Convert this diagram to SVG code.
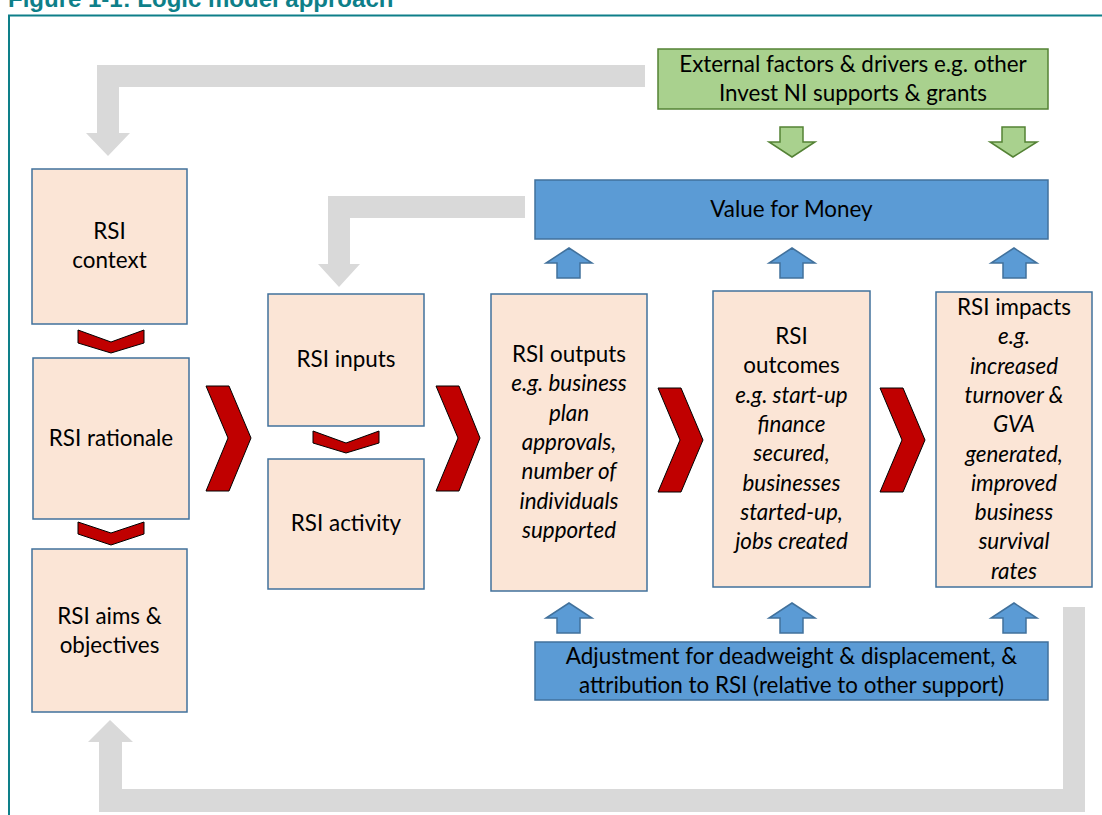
<svg xmlns="http://www.w3.org/2000/svg" width="1102" height="815" viewBox="0 0 1102 815">
<style>
.title{font-family:"Liberation Sans",Arial,sans-serif;font-weight:bold;font-size:24px;fill:#0E7F89}
.box{fill:#FBE5D6;stroke:#41719C;stroke-width:1.5}
.blue{fill:#5B9BD5;stroke:#41719C;stroke-width:1.5}
.green{fill:#A9D18E;stroke:#548235;stroke-width:1.5}
.grey{fill:#D9D9D9}
.chev{fill:#C00000;stroke:#000;stroke-width:1}
.t{font-family:Lato,"Liberation Sans",sans-serif;font-size:22.4px;fill:#000;text-anchor:middle}
.i{font-style:italic}
</style>
<rect width="1102" height="815" fill="#fff"/>
<text class="title" x="8" y="7">Figure 1-1: Logic model approach</text>
<rect x="9" y="15.5" width="1110" height="820" fill="none" stroke="#0E7F89" stroke-width="2"/>

<g id="connectors">
  <path class="grey" d="M645,65 L97,65 L97,133 L86,133 L108,156 L130,133 L119,133 L119,87 L645,87 Z"/>
  <path class="grey" d="M525,196 L328,196 L328,264 L318,264 L339,287 L360,264 L350,264 L350,218 L525,218 Z"/>
  <path class="grey" d="M1085,607 L1085,812 L99,812 L99,742 L88,742 L110,720 L133,742 L122,742 L122,789 L1063,789 L1063,607 Z"/>
  <polygon class="chev" points="78,330 111,342 144,330 144,343 111,353 78,343"/>
  <polygon class="chev" points="78,522 111,533 144,522 144,534 111,545 78,534"/>
  <polygon class="chev" points="313,431 346,443 379,431 379,443 346,453 313,443"/>
  <polygon class="chev" points="206,386 229,386 251,438 229,491 206,491 228,438"/>
  <polygon class="chev" points="436,386 459,386 480,438 459,491 436,491 458,438"/>
  <polygon class="chev" points="658,388 681,388 703,440 681,492 658,492 680,440"/>
  <polygon class="chev" points="880,388 903,388 925,440 903,492 880,492 902,440"/>
  <polygon class="blue" points="557,278 557,263 546,263 569,248 592,263 580,263 580,278"/>
  <polygon class="blue" points="780,278 780,263 769,263 792,248 815,263 803,263 803,278"/>
  <polygon class="blue" points="1003,278 1003,263 991,263 1014,248 1037,263 1026,263 1026,278"/>
  <polygon class="blue" points="557,633 557,618 546,618 569,603 592,618 580,618 580,633"/>
  <polygon class="blue" points="780,633 780,618 769,618 792,603 815,618 803,618 803,633"/>
  <polygon class="blue" points="1003,633 1003,618 991,618 1014,603 1037,618 1026,618 1026,633"/>
  <polygon class="green" points="780,127 803,127 803,142 815,142 792,157 769,142 780,142"/>
  <polygon class="green" points="1002,127 1025,127 1025,142 1037,142 1013,157 990,142 1002,142"/>
</g>

<g id="external">
  <rect class="green" x="658" y="49" width="390" height="60"/>
  <text class="t" x="853" y="71.5">External factors &amp; drivers e.g. other</text>
  <text class="t" x="853" y="101">Invest NI supports &amp; grants</text>
</g>
<g id="vfm">
  <rect class="blue" x="535" y="180" width="513" height="59"/>
  <text class="t" x="791.5" y="217">Value for Money</text>
</g>
<g id="adjustment">
  <rect class="blue" x="535" y="642" width="513" height="58"/>
  <text class="t" x="791.5" y="663.5">Adjustment for deadweight &amp; displacement, &amp;</text>
  <text class="t" x="791.5" y="692.8">attribution to RSI (relative to other support)</text>
</g>
<g id="context">
  <rect class="box" x="32" y="169" width="155" height="155"/>
  <text class="t" x="109.5" y="239">RSI</text>
  <text class="t" x="109.5" y="268.3">context</text>
</g>
<g id="rationale">
  <rect class="box" x="33" y="358" width="156" height="161"/>
  <text class="t" x="111" y="446">RSI rationale</text>
</g>
<g id="aims">
  <rect class="box" x="32" y="549" width="155" height="163"/>
  <text class="t" x="109.5" y="623.5">RSI aims &amp;</text>
  <text class="t" x="109.5" y="652.8">objectives</text>
</g>
<g id="inputs">
  <rect class="box" x="268" y="294" width="156" height="132"/>
  <text class="t" x="346" y="367">RSI inputs</text>
</g>
<g id="activity">
  <rect class="box" x="268" y="459" width="156" height="130"/>
  <text class="t" x="346" y="531">RSI activity</text>
</g>
<g id="outputs">
  <rect class="box" x="491" y="294" width="156" height="297"/>
  <text class="t" x="569" y="362">RSI outputs</text>
  <text class="t i" x="569" y="391.3">e.g. business</text>
  <text class="t i" x="569" y="420.6">plan</text>
  <text class="t i" x="569" y="449.9">approvals,</text>
  <text class="t i" x="569" y="479.2">number of</text>
  <text class="t i" x="569" y="508.5">individuals</text>
  <text class="t i" x="569" y="537.8">supported</text>
</g>
<g id="outcomes">
  <rect class="box" x="713" y="291" width="157" height="296"/>
  <text class="t" x="791.5" y="344">RSI</text>
  <text class="t" x="791.5" y="373.3">outcomes</text>
  <text class="t i" x="791.5" y="402.6">e.g. start-up</text>
  <text class="t i" x="791.5" y="431.9">finance</text>
  <text class="t i" x="791.5" y="461.2">secured,</text>
  <text class="t i" x="791.5" y="490.5">businesses</text>
  <text class="t i" x="791.5" y="519.8">started-up,</text>
  <text class="t i" x="791.5" y="549.1">jobs created</text>
</g>
<g id="impacts">
  <rect class="box" x="936" y="292" width="156" height="295"/>
  <text class="t" x="1014" y="315">RSI impacts</text>
  <text class="t i" x="1014" y="344.3">e.g.</text>
  <text class="t i" x="1014" y="373.6">increased</text>
  <text class="t i" x="1014" y="402.9">turnover &amp;</text>
  <text class="t i" x="1014" y="432.2">GVA</text>
  <text class="t i" x="1014" y="461.5">generated,</text>
  <text class="t i" x="1014" y="490.8">improved</text>
  <text class="t i" x="1014" y="520.1">business</text>
  <text class="t i" x="1014" y="549.4">survival</text>
  <text class="t i" x="1014" y="578.7">rates</text>
</g>
</svg>
